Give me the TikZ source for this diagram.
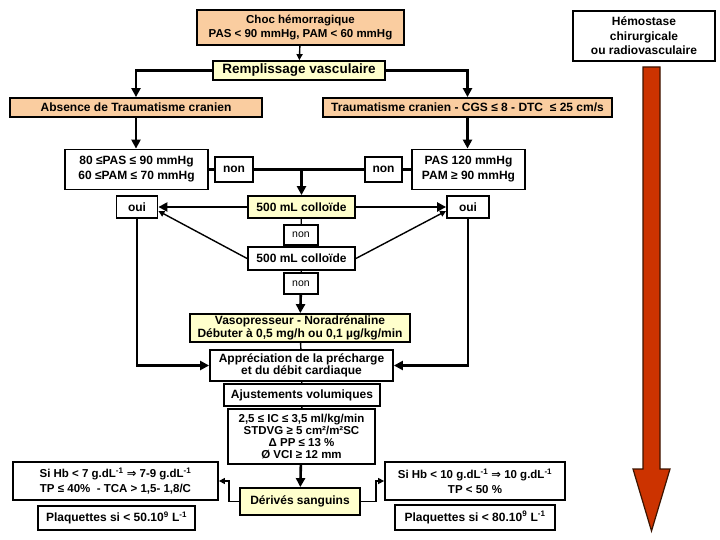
\documentclass[tikz,border=0pt]{standalone}
\usepackage{fontspec}
\setmainfont{Liberation Sans}
\newfontfamily\symfont{DejaVu Sans}
\usetikzlibrary{arrows.meta}
\definecolor{peach}{RGB}{250,205,160}
\definecolor{paleyellow}{RGB}{255,255,204}
\definecolor{bloodred}{RGB}{204,51,0}
\definecolor{darkrim}{RGB}{60,20,0}
\tikzset{
  box/.style={rectangle, draw=black, line width=1.8pt, fill=white, align=center, inner sep=1pt, font=\bfseries\fontsize{12}{13.5}\selectfont},
  peachbox/.style={box, fill=peach},
  palebox/.style={box, fill=paleyellow},
  smallbox/.style={box, font=\fontsize{10.5}{12}\selectfont},
  heavy/.style={line width=2.6pt},
  light/.style={line width=1.4pt},
  bigtip/.style={-{Triangle[length=9pt,width=9pt]}},
  smalltip/.style={-{Triangle[length=6pt,width=6pt]}}
}
\begin{document}
\begin{tikzpicture}[x=1pt,y=-1pt]
\useasboundingbox[fill=white] (0,0) rectangle (720,540);

\node[peachbox, minimum width=207pt, minimum height=35pt, font=\bfseries\fontsize{11.5}{14}\selectfont](choc) at (300.5,27.5){Choc hémorragique\\PAS < 90 mmHg, PAM < 60 mmHg};
\node[palebox, minimum width=172pt, minimum height=19pt, font=\bfseries\fontsize{13.5}{15}\selectfont](rempl) at (299,70.5){Remplissage vasculaire};
\node[box, minimum width=142pt, minimum height=50pt, font=\bfseries\fontsize{12}{14.5}\selectfont](hemo) at (644,36){Hémostase\\chirurgicale\\ou radiovasculaire};

\node[peachbox, minimum width=252pt, minimum height=19pt](absence) at (136,107.5){Absence de Traumatisme cranien};
\node[peachbox, minimum width=289pt, minimum height=19pt](trauma) at (467.5,107.5){Traumatisme cranien - CGS ≤ 8 - DTC \ ≤ 25 cm/s};

\node[box, minimum width=143pt, minimum height=40pt, font=\bfseries\fontsize{12}{15}\selectfont](pasLow) at (136.5,169.5){80 ≤PAS ≤ 90 mmHg\\60 ≤PAM ≤ 70 mmHg};
\node[box, minimum width=38pt, minimum height=25pt](nonLeft) at (234,169.5){non};
\node[box, minimum width=37pt, minimum height=25pt](nonRight) at (383.5,169.5){non};
\node[box, minimum width=113pt, minimum height=40pt, font=\bfseries\fontsize{12}{15}\selectfont](pasHigh) at (468.5,169.5){PAS 120 mmHg\\PAM ≥ 90 mmHg};

\node[box, minimum width=41pt, minimum height=22pt](ouiLeft) at (137,207){oui};
\node[palebox, minimum width=107pt, minimum height=22pt](colloid1) at (301.5,207){500 mL colloïde};
\node[box, minimum width=42pt, minimum height=22pt](ouiRight) at (468,207){oui};
\node[smallbox, minimum width=34pt, minimum height=20pt](nonUp) at (301,235){non};
\node[box, minimum width=107pt, minimum height=23pt](colloid2) at (301.5,258.5){500 mL colloïde};
\node[smallbox, minimum width=34pt, minimum height=21pt](nonDown) at (301,283.5){non};

\node[palebox, minimum width=220pt, minimum height=28pt, font=\bfseries\fontsize{12}{12.5}\selectfont](vaso) at (300,328){Vasopresseur - Noradrénaline\\Débuter à 0,5 mg/h ou 0,1 µg/kg/min};
\node[box, minimum width=183pt, minimum height=31pt, font=\bfseries\fontsize{12}{12.5}\selectfont](apprec) at (301.5,365.5){Appréciation de la précharge\\et du débit cardiaque};
\node[box, minimum width=156pt, minimum height=22pt](ajust) at (302,395){Ajustements volumiques};
\node[box, minimum width=147pt, minimum height=55pt, font=\bfseries\fontsize{11.5}{12.3}\selectfont](ic) at (301.5,436.5){2,5 ≤ IC ≤ 3,5 ml/kg/min\\STDVG ≥ 5 cm²/m²SC\\Δ PP ≤ 13 \%\\Ø VCI ≥ 12 mm};

\node[box, minimum width=205pt, minimum height=38pt, font=\bfseries\fontsize{11.5}{15}\selectfont](hbLow) at (115.5,481){Si Hb < 7 g.dL\textsuperscript{-1} {\symfont ⇒} 7-9 g.dL\textsuperscript{-1}\\TP ≤ 40\% \ - TCA > 1,5- 1,8/C};
\node[palebox, minimum width=120pt, minimum height=27pt](derives) at (300,501.5){Dérivés sanguins};
\node[box, minimum width=180pt, minimum height=38pt, font=\bfseries\fontsize{11.5}{15}\selectfont](hbHigh) at (475,481){Si Hb < 10 g.dL\textsuperscript{-1} {\symfont ⇒} 10 g.dL\textsuperscript{-1}\\TP < 50 \%};
\node[box, minimum width=157pt, minimum height=24pt](plaqLow) at (116.5,518){Plaquettes si < 50.10\textsuperscript{9} L\textsuperscript{-1}};
\node[box, minimum width=160pt, minimum height=25pt](plaqHigh) at (475,517.5){Plaquettes si < 80.10\textsuperscript{9} L\textsuperscript{-1}};

\draw[light, smalltip] (choc) -- (rempl);
\draw[heavy, bigtip] (rempl.west) -| (absence.north);
\draw[heavy, bigtip] (rempl.east) -| (trauma.north);
\draw[heavy, bigtip] (absence.south) -- (pasLow.north -| absence.south);
\draw[heavy, bigtip] (trauma.south) -- (pasHigh.north -| trauma.south);

\draw[heavy] (pasLow) -- (nonLeft);
\draw[heavy] (nonLeft) -- (nonRight);
\draw[heavy] (nonRight) -- (pasHigh);
\draw[heavy, bigtip] (nonLeft.east -| colloid1.north) -- (colloid1.north);

\draw[heavy, bigtip] (colloid1) -- (ouiLeft);
\draw[heavy, bigtip] (colloid1) -- (ouiRight);
\draw[light] (colloid1) -- (nonUp) -- (colloid2);
\draw[light, smalltip] (colloid2.west) -- ([yshift=-4pt]ouiLeft.east);
\draw[light, smalltip] (colloid2.east) -- ([yshift=-4pt]ouiRight.west);
\draw[light] (colloid2) -- (nonDown);
\draw[heavy, bigtip] (nonDown) -- (vaso);

\draw[heavy, bigtip] (ouiLeft.south) |- (apprec.west);
\draw[heavy, bigtip] (ouiRight.south) |- (apprec.east);
\draw[light] (vaso) -- (apprec);
\draw[light] (apprec) -- (ajust);
\draw[light] (ajust) -- (ic);
\draw[heavy, bigtip] (ic) -- (derives);
\draw[light, smalltip] (derives.west) -- ++(-10,0) |- (hbLow.east);
\draw[light, smalltip] (derives.east) -- ++(15,0) |- (hbHigh.west);

% red arrow
\draw[line width=1.2pt, draw=darkrim, fill=bloodred, line join=miter] (643,67) -- (660,67) -- (660,469) -- (670,469) -- (651.5,531) -- (633,469) -- (643,469) -- cycle;
\end{tikzpicture}
\end{document}
